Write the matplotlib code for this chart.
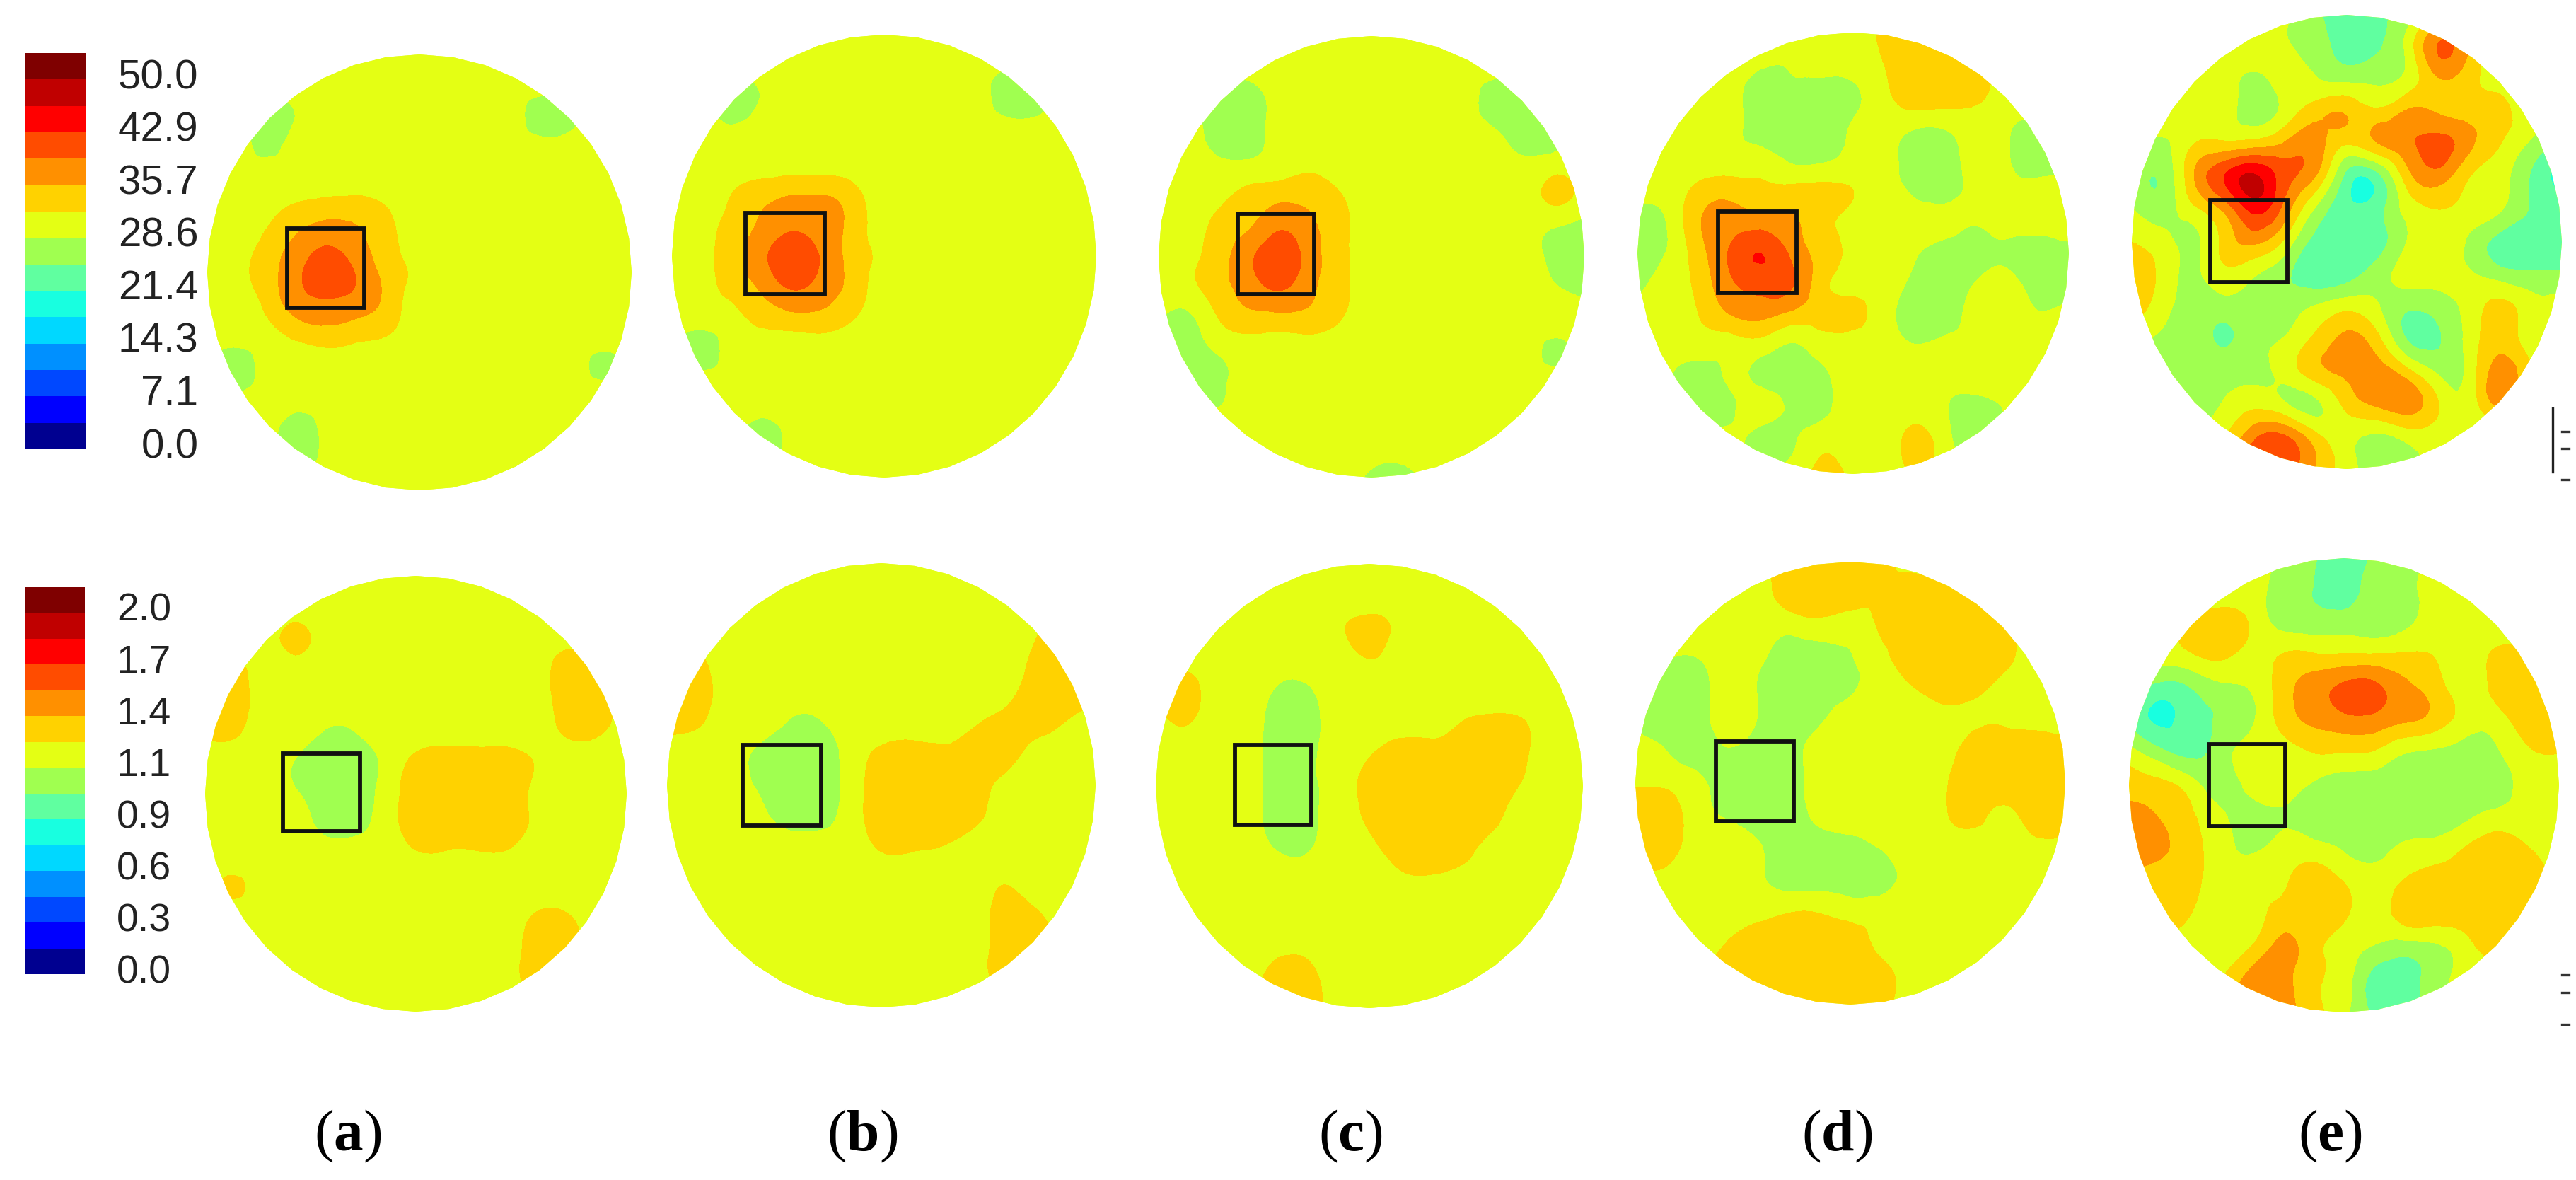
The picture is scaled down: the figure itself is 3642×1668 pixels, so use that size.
import numpy as np
import matplotlib
matplotlib.use("Agg")
import matplotlib.pyplot as plt
import matplotlib.tri as tri
from matplotlib.colors import ListedColormap, BoundaryNorm
from matplotlib.patches import Polygon, Rectangle
from matplotlib.lines import Line2D

W, H = 3642, 1668

# colour bands, bottom to top
band_colors = ["#000090", "#0000ff", "#0048ff", "#0090ff", "#00d8ff", "#18ffe0", "#60ffa0", "#a0ff50",
               "#e4ff14", "#ffd200", "#ff9000", "#ff4c00", "#ff0000", "#c00000", "#7f0000"]
top_labels = ["0.0", "7.1", "14.3", "21.4", "28.6", "35.7", "42.9", "50.0"]
bot_labels = ["0.0", "0.3", "0.6", "0.9", "1.1", "1.4", "1.7", "2.0"]
top_label_pos = [0.8, 7.46, 14.11, 20.77, 27.43, 34.09, 40.74, 47.4]
bot_label_pos = [0.026, 0.293, 0.561, 0.828, 1.096, 1.363, 1.63, 1.898]
panel_names = ["a", "b", "c", "d", "e"]

# fields on a 15 x 15 grid, row 0 is the top of the disk
top_a = [
    [28]*15,
    [28]*15,
    [28, 28, 25, 27, 28, 28, 28, 28, 28, 28, 28, 25, 26, 28, 28],
    [28, 28, 26, 28, 28, 28, 28, 28, 28, 28, 28, 28, 28, 28, 28],
    [28]*15,
    [28, 28, 29, 31, 32, 32, 30, 28, 28, 28, 28, 28, 28, 28, 28],
    [28, 28, 31, 34, 36, 34, 31, 28, 28, 28, 28, 28, 28, 28, 28],
    [28, 29, 32, 36, 39, 36, 32, 29, 28, 28, 28, 28, 28, 28, 28],
    [28, 28, 31, 35, 36, 35, 32, 28, 28, 28, 28, 28, 28, 28, 28],
    [28, 28, 29, 31, 32, 31, 30, 28, 28, 28, 28, 28, 28, 28, 28],
    [28, 25, 28, 28, 28, 28, 28, 28, 28, 28, 28, 28, 28, 26, 28],
    [28, 27, 28, 28, 28, 28, 28, 28, 28, 28, 28, 28, 28, 28, 28],
    [28, 28, 28, 25, 28, 28, 28, 28, 28, 28, 28, 28, 28, 28, 28],
    [28, 28, 28, 25, 28, 28, 28, 28, 28, 28, 28, 28, 28, 28, 28],
    [28]*15,
]
top_b = [
    [28]*15,
    [28, 28, 28, 28, 28, 28, 28, 28, 28, 28, 28, 27, 27, 28, 28],
    [28, 28, 25, 27, 28, 28, 28, 28, 28, 28, 28, 25, 25, 28, 28],
    [28, 28, 27, 28, 28, 28, 28, 28, 28, 28, 28, 28, 28, 28, 28],
    [28]*15,
    [28, 28, 30, 32, 33, 33, 31, 28, 28, 28, 28, 28, 28, 28, 28],
    [28, 29, 31, 34, 36, 35, 32, 28, 28, 28, 28, 28, 28, 28, 28],
    [28, 29, 32, 36, 39, 36, 32, 29, 28, 28, 28, 28, 28, 28, 28],
    [28, 29, 31, 34, 37, 35, 32, 28, 28, 28, 28, 28, 28, 28, 28],
    [28, 28, 29, 31, 32, 32, 30, 28, 28, 28, 28, 28, 28, 28, 28],
    [28, 25, 28, 28, 28, 28, 28, 28, 28, 28, 28, 28, 28, 28, 28],
    [28]*15,
    [28, 28, 28, 27, 28, 28, 28, 28, 28, 28, 28, 28, 28, 28, 28],
    [28, 28, 28, 25, 28, 28, 28, 28, 28, 28, 28, 28, 28, 28, 28],
    [28]*15,
]
top_c = [
    [28]*15,
    [28]*15,
    [28, 28, 25, 25, 28, 28, 28, 28, 28, 28, 28, 25, 25, 28, 28],
    [28, 28, 25, 25, 28, 28, 28, 28, 28, 28, 28, 27, 25, 26, 28],
    [28, 28, 27, 27, 28, 29, 28, 28, 28, 28, 28, 28, 27, 28, 28],
    [28, 28, 29, 31, 32, 32, 30, 28, 28, 28, 28, 28, 28, 31, 28],
    [28, 28, 31, 33, 36, 34, 31, 28, 28, 28, 28, 28, 28, 27, 26],
    [28, 29, 32, 36, 39, 35, 31, 28, 28, 28, 28, 28, 28, 26, 25],
    [28, 29, 32, 35, 37, 34, 31, 28, 28, 28, 28, 28, 28, 27, 26],
    [27, 26, 30, 32, 32, 32, 30, 28, 28, 28, 28, 28, 28, 28, 28],
    [25, 25, 27, 28, 28, 28, 28, 28, 28, 28, 28, 28, 28, 26, 28],
    [28, 25, 26, 28, 28, 28, 28, 28, 28, 28, 28, 28, 28, 28, 28],
    [28, 28, 27, 28, 28, 28, 28, 28, 28, 28, 28, 28, 28, 28, 28],
    [28]*15,
    [28, 28, 28, 28, 28, 28, 28, 26, 25, 28, 28, 28, 28, 28, 28],
]
top_d = [
    [28, 28, 28, 28, 28, 28, 28, 28, 31, 32, 28, 28, 28, 28, 28],
    [28, 28, 28, 28, 27, 27, 28, 28, 30, 32, 32, 31, 28, 28, 28],
    [28, 28, 28, 28, 25, 26, 25, 26, 29, 32, 32, 31, 28, 28, 28],
    [28, 28, 28, 28, 25, 25, 25, 27, 28, 27, 27, 28, 27, 26, 28],
    [28, 28, 28, 28, 28, 26, 26, 28, 28, 25, 25, 28, 27, 25, 28],
    [28, 28, 31, 32, 31, 31, 31, 30, 28, 26, 25, 28, 28, 28, 28],
    [25, 27, 33, 35, 35, 34, 31, 29, 28, 28, 28, 27, 28, 28, 29],
    [25, 27, 32, 37, 40, 36, 32, 29, 28, 27, 25, 25, 26, 25, 25],
    [26, 28, 31, 36, 38, 37, 31, 29, 28, 26, 25, 27, 28, 25, 25],
    [28, 28, 30, 33, 34, 32, 31, 31, 28, 25, 25, 28, 28, 27, 28],
    [28, 28, 28, 28, 28, 26, 28, 28, 28, 27, 28, 28, 28, 28, 28],
    [28, 27, 25, 27, 26, 25, 26, 28, 28, 28, 28, 28, 28, 28, 28],
    [28, 28, 25, 26, 28, 26, 26, 28, 28, 29, 27, 25, 27, 28, 28],
    [28, 28, 28, 28, 25, 26, 29, 28, 28, 31, 28, 25, 28, 28, 28],
    [28, 28, 28, 28, 28, 28, 31, 29, 28, 30, 28, 28, 28, 28, 28],
]
top_e = [
    [28, 28, 28, 28, 28, 27, 24, 22, 23, 25, 30, 30, 28, 28, 28],
    [28, 28, 28, 28, 28, 27, 25, 22, 23, 28, 37, 33, 28, 28, 28],
    [28, 28, 28, 28, 26, 28, 27, 26, 26, 28, 33, 31, 29, 28, 28],
    [28, 28, 28, 28, 25, 28, 32, 33, 31, 34, 33, 32, 31, 28, 28],
    [28, 26, 30, 31, 32, 34, 35, 30, 33, 36, 38, 34, 30, 26, 23],
    [26, 24, 33, 40, 44, 38, 33, 22, 22, 32, 35, 30, 28, 23, 19],
    [27, 25, 29, 34, 41, 35, 26, 21, 22, 28, 30, 29, 27, 23, 22],
    [30, 28, 26, 31, 34, 29, 22, 21, 22, 27, 29, 26, 22, 21, 21],
    [32, 29, 26, 29, 27, 24, 21, 22, 25, 28, 28, 27, 25, 24, 24],
    [32, 28, 25, 25, 25, 25, 27, 29, 27, 24, 25, 28, 31, 28, 28],
    [28, 26, 25, 23, 25, 27, 31, 34, 31, 23, 23, 28, 32, 28, 28],
    [28, 25, 25, 25, 26, 28, 32, 34, 35, 31, 26, 28, 35, 30, 28],
    [28, 26, 25, 27, 29, 27, 26, 31, 34, 35, 30, 28, 34, 28, 28],
    [28, 28, 28, 30, 36, 37, 31, 28, 26, 28, 28, 28, 28, 28, 28],
    [28, 28, 28, 35, 38, 38, 33, 28, 25, 26, 28, 28, 28, 28, 28],
]
# lower row is stored in hundredths
bot_a = [
    [113]*15,
    [113]*15,
    [113, 113, 113, 124, 113, 113, 113, 113, 113, 113, 113, 113, 116, 113, 113],
    [113, 123, 113, 113, 113, 113, 113, 113, 113, 113, 113, 113, 127, 122, 113],
    [127, 127, 113, 113, 113, 113, 113, 113, 113, 113, 113, 113, 127, 127, 113],
    [123, 122, 113, 113, 106, 107, 113, 113, 113, 113, 113, 113, 122, 122, 113],
    [113, 113, 113, 106, 100, 100, 110, 124, 127, 127, 127, 119, 113, 113, 113],
    [113, 113, 113, 108, 100, 100, 112, 127, 127, 127, 127, 117, 113, 113, 113],
    [113, 113, 113, 113, 103, 103, 113, 127, 127, 127, 127, 117, 113, 113, 113],
    [113, 113, 113, 113, 113, 113, 113, 118, 118, 118, 118, 113, 113, 113, 113],
    [113, 122, 113, 113, 113, 113, 113, 113, 113, 113, 113, 113, 113, 113, 113],
    [113, 113, 113, 113, 113, 113, 113, 113, 113, 113, 113, 122, 122, 113, 113],
    [113, 113, 113, 113, 113, 113, 113, 113, 113, 113, 113, 127, 125, 113, 113],
    [113, 113, 113, 113, 113, 113, 113, 113, 113, 113, 113, 125, 113, 113, 113],
    [113]*15,
]
bot_b = [
    [113]*15,
    [113]*15,
    [113, 113, 113, 113, 113, 113, 113, 113, 113, 113, 113, 113, 118, 121, 113],
    [124, 122, 113, 113, 113, 113, 113, 113, 113, 113, 113, 113, 122, 124, 113],
    [127, 127, 113, 113, 113, 113, 113, 113, 113, 113, 113, 114, 127, 127, 125],
    [125, 122, 113, 113, 106, 106, 113, 113, 113, 113, 118, 125, 127, 120, 113],
    [113, 113, 113, 104, 100, 100, 112, 123, 125, 123, 127, 127, 115, 113, 113],
    [113, 113, 113, 105, 100, 100, 112, 127, 127, 127, 127, 116, 113, 113, 113],
    [113, 113, 113, 110, 102, 102, 113, 127, 127, 127, 124, 113, 113, 113, 113],
    [113, 113, 113, 113, 113, 113, 113, 121, 121, 119, 113, 113, 113, 113, 113],
    [113, 113, 113, 113, 113, 113, 113, 113, 113, 113, 113, 119, 113, 113, 113],
    [113, 113, 113, 113, 113, 113, 113, 113, 113, 113, 113, 125, 122, 113, 113],
    [113, 113, 113, 113, 113, 113, 113, 113, 113, 113, 113, 127, 127, 113, 113],
    [113, 113, 113, 113, 113, 113, 113, 113, 113, 113, 113, 124, 113, 113, 113],
    [113]*15,
]
bot_c = [
    [113]*15,
    [113]*15,
    [113, 113, 113, 113, 113, 113, 118, 124, 117, 113, 113, 113, 113, 113, 113],
    [113, 115, 113, 113, 113, 113, 113, 120, 113, 113, 113, 113, 113, 113, 113],
    [124, 127, 113, 113, 105, 105, 113, 113, 113, 113, 113, 113, 113, 113, 113],
    [113, 121, 113, 113, 100, 101, 113, 113, 113, 113, 120, 123, 121, 113, 113],
    [113, 113, 113, 113, 100, 103, 113, 119, 127, 127, 127, 127, 122, 113, 113],
    [113, 113, 113, 113, 100, 103, 113, 124, 127, 127, 127, 127, 119, 113, 113],
    [113, 113, 113, 113, 100, 103, 113, 122, 127, 127, 127, 124, 113, 113, 113],
    [113, 113, 113, 113, 106, 106, 113, 117, 125, 127, 125, 115, 113, 113, 113],
    [113, 113, 113, 113, 113, 113, 113, 113, 117, 118, 115, 113, 113, 113, 113],
    [113]*15,
    [113, 113, 113, 113, 115, 115, 113, 113, 113, 113, 113, 113, 113, 113, 113],
    [113, 113, 113, 113, 127, 125, 113, 113, 113, 113, 113, 113, 113, 113, 113],
    [113, 113, 113, 113, 127, 127, 113, 113, 113, 113, 113, 113, 113, 113, 113],
]
bot_d = [
    [113, 113, 113, 113, 113, 127, 127, 127, 125, 113, 113, 113, 113, 113, 113],
    [113, 113, 113, 113, 113, 127, 127, 127, 122, 127, 127, 125, 113, 113, 113],
    [113, 113, 113, 113, 113, 112, 116, 113, 122, 127, 127, 127, 123, 113, 113],
    [113, 108, 107, 113, 110, 100, 100, 106, 116, 127, 127, 127, 124, 113, 113],
    [113, 100, 100, 113, 106, 100, 100, 105, 113, 119, 127, 124, 116, 113, 113],
    [105, 100, 100, 113, 106, 100, 105, 113, 113, 113, 113, 117, 118, 116, 113],
    [113, 107, 100, 105, 100, 100, 113, 113, 113, 113, 113, 127, 127, 127, 127],
    [119, 118, 111, 100, 100, 100, 113, 113, 113, 113, 118, 127, 127, 127, 127],
    [127, 127, 113, 105, 100, 100, 110, 113, 113, 113, 118, 124, 117, 127, 127],
    [127, 127, 113, 113, 108, 100, 100, 102, 108, 113, 113, 113, 113, 116, 116],
    [118, 116, 113, 113, 109, 100, 100, 100, 100, 113, 113, 113, 113, 113, 113],
    [113, 113, 113, 113, 114, 118, 118, 113, 113, 113, 113, 113, 113, 113, 113],
    [113, 113, 113, 120, 127, 127, 127, 127, 116, 113, 113, 113, 113, 113, 113],
    [113, 113, 113, 127, 127, 127, 127, 127, 125, 113, 113, 113, 113, 113, 113],
    [113, 113, 113, 127, 127, 127, 127, 127, 124, 113, 113, 113, 113, 113, 113],
]
bot_e = [
    [113, 113, 113, 113, 113, 105, 95, 87, 95, 100, 113, 113, 113, 113, 113],
    [113, 113, 113, 113, 113, 100, 93, 87, 100, 103, 113, 113, 113, 113, 113],
    [113, 113, 122, 127, 118, 102, 100, 100, 100, 104, 113, 113, 113, 113, 113],
    [113, 113, 118, 123, 115, 121, 122, 122, 122, 122, 119, 113, 123, 119, 113],
    [100, 88, 93, 103, 108, 127, 140, 150, 150, 137, 126, 113, 125, 127, 113],
    [92, 78, 86, 95, 105, 125, 136, 142, 142, 135, 127, 113, 114, 127, 127],
    [113, 98, 90, 100, 113, 114, 120, 120, 118, 107, 104, 100, 105, 118, 120],
    [127, 124, 113, 100, 112, 112, 105, 100, 100, 100, 100, 100, 100, 113, 113],
    [140, 133, 122, 110, 100, 105, 100, 100, 100, 100, 100, 105, 112, 113, 113],
    [140, 136, 125, 113, 105, 113, 113, 106, 103, 110, 113, 122, 127, 121, 113],
    [127, 127, 124, 113, 113, 118, 127, 120, 113, 122, 127, 127, 127, 127, 113],
    [113, 127, 120, 113, 113, 127, 127, 122, 113, 127, 127, 127, 127, 123, 113],
    [113, 113, 113, 113, 121, 137, 125, 113, 105, 100, 104, 115, 124, 113, 113],
    [113, 113, 113, 120, 140, 140, 122, 113, 87, 87, 100, 113, 113, 113, 113],
    [113, 113, 113, 127, 140, 140, 125, 110, 90, 87, 100, 113, 113, 113, 113],
]

top_fields = [top_a, top_b, top_c, top_d, top_e]
bot_fields = [bot_a, bot_b, bot_c, bot_d, bot_e]

# panel boxes and marker squares in image pixels: x centre, y centre, rx, ry
top_disks = [(593, 385, 300, 308), (1250, 362, 300, 313), (1939, 363, 301, 312), (2620, 358, 305, 312), (3318, 342, 304, 321)]
bot_disks = [(588, 1122, 298, 308), (1246, 1110, 303, 314), (1936, 1111, 302, 314), (2616, 1107, 304, 313), (3314, 1110, 304, 321)]
top_boxes = [(406, 323, 515, 435), (1054, 301, 1166, 416), (1750, 302, 1858, 416), (2429, 299, 2540, 414), (3125, 283, 3234, 399)]
bot_boxes = [(400, 1065, 509, 1175), (1050, 1053, 1161, 1167), (1746, 1053, 1854, 1166), (2426, 1048, 2536, 1161), (3123, 1052, 3231, 1168)]
label_x = [492, 1219, 1909, 2597, 3294]
# stray marks at the right edge of the scan
mark_y = [610, 634, 678, 1378, 1403, 1448]

plt.rcParams["mathtext.fontset"] = "custom"
plt.rcParams["mathtext.bf"] = "Liberation Serif:bold"
plt.rcParams["mathtext.rm"] = "Liberation Serif"

fig = plt.figure(figsize=(W / 100, H / 100), dpi=100, facecolor="white")

# grid is the same for every panel
gx = np.linspace(-1, 1, 15)
X, Y = np.meshgrid(gx, gx[::-1])
triang = tri.Triangulation(X.ravel(), Y.ravel())
refiner = tri.UniformTriRefiner(triang)
ang = np.deg2rad(90 + np.arange(40) * 360 / 40)
disk_xy = np.column_stack([np.cos(ang), np.sin(ang)])


def draw_disk(disk, field, scale):
    cx, cy, rx, ry = disk
    ax = fig.add_axes([(cx - rx) / W, 1 - (cy + ry) / H, 2 * rx / W, 2 * ry / H])
    ax.set_xlim(-1, 1)
    ax.set_ylim(-1, 1)
    ax.axis("off")
    levels = np.linspace(0, scale, 16)
    z = np.array(field, dtype=float) * (1 if scale == 50 else 0.01)
    under = Polygon(disk_xy, closed=True, fc=band_colors[8], ec="none")
    ax.add_patch(under)
    tr2, z2 = refiner.refine_field(z.ravel(), subdiv=3)
    cs = ax.tricontourf(tr2, z2, levels=levels, colors=band_colors)
    cs.set_clip_path(under)


def draw_bar(y0, y1, x0, x1, scale, ticks, labels, pad, size):
    ax = fig.add_axes([x0 / W, 1 - y1 / H, (x1 - x0) / W, (y1 - y0) / H])
    levels = np.linspace(0, scale, 16)
    cmap = ListedColormap(band_colors)
    norm = BoundaryNorm(levels, 15)
    mids = (levels[:-1] + levels[1:]) / 2
    ax.pcolormesh([0, 1], levels, mids.reshape(-1, 1), cmap=cmap, norm=norm)
    ax.set_xticks([])
    ax.yaxis.tick_right()
    ax.set_yticks(ticks, labels)
    ax.tick_params(axis="y", length=0, pad=pad, labelsize=size, labelcolor="#222222")
    for t in ax.get_yticklabels():
        t.set_horizontalalignment("right")
        t.set_family("Liberation Sans")
    for s in ax.spines.values():
        s.set_visible(False)


for d, f in zip(top_disks, top_fields):
    draw_disk(d, f, 50)
for d, f in zip(bot_disks, bot_fields):
    draw_disk(d, f, 2)

draw_bar(75, 635, 35, 122, 50, top_label_pos, top_labels, 114, 42)
draw_bar(830, 1377, 35, 120, 2, bot_label_pos, bot_labels, 88, 40)

# overlay in image pixels for the squares and panel letters
over = fig.add_axes([0, 0, 1, 1], facecolor="none")
over.set_xlim(0, W)
over.set_ylim(H, 0)
over.axis("off")
for x0, y0, x1, y1 in top_boxes + bot_boxes:
    over.add_patch(Rectangle((x0, y0), x1 - x0, y1 - y0, fc="none", ec="#111111", lw=4.2))
for x, name in zip(label_x, panel_names):
    over.text(x, 1606, "(" + r"$\mathbf{" + name + "}$" + ")", ha="center", va="center",
              fontsize=60, family="Liberation Serif", color="black")

over.add_line(Line2D([3609, 3609], [577, 667], color="#222222", lw=2.4))
for y in mark_y:
    over.add_line(Line2D([3622, 3632], [y, y], color="#333333", lw=2.4))

fig.savefig("out.png", dpi=100)
